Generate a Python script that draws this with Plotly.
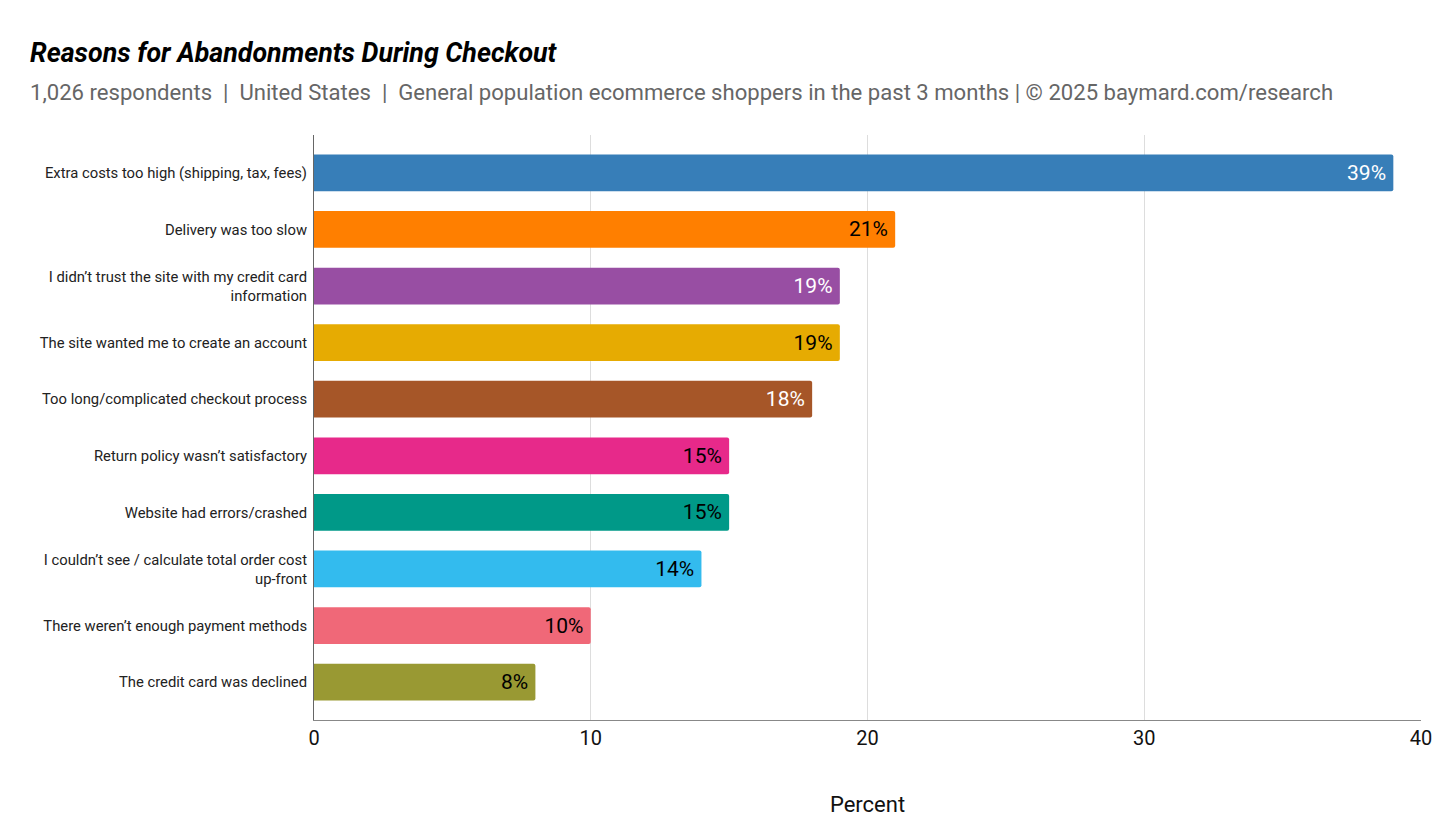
import plotly.graph_objects as go

# survey answers, top to bottom
reasons = [
    'Extra costs too high (shipping, tax, fees)',
    'Delivery was too slow',
    'I didn’t trust the site with my credit card<br>information',
    'The site wanted me to create an account',
    'Too long/complicated checkout process',
    'Return policy wasn’t satisfactory',
    'Website had errors/crashed',
    'I couldn’t see / calculate total order cost<br>up-front',
    'There weren’t enough payment methods',
    'The credit card was declined',
]
percent = [39, 21, 19, 19, 18, 15, 15, 14, 10, 8]
bar_colors = ['#377eb8', '#ff7f00', '#984ea3', '#e6ab02', '#a65628',
              '#e7298a', '#009988', '#33bbee', '#f06878', '#999933']
label_colors = ['white', 'black', 'white', 'black', 'white',
                'black', 'black', 'black', 'black', 'black']

fig = go.Figure()
fig.add_trace(go.Bar(
    x=percent,
    y=reasons,
    orientation='h',
    marker=dict(color=bar_colors, line=dict(width=0), cornerradius=2),
    text=[f'{p}%\u2009' for p in percent],
    textposition='inside',
    insidetextanchor='end',
    textfont=dict(size=21, color=label_colors, family='Roboto'),
    hovertemplate='<b>%{y}</b>: %{x}%<extra></extra>',
))

fig.update_layout(
    width=1447, height=825,
    margin=dict(l=306, r=34, t=127, b=113),
    plot_bgcolor='white', paper_bgcolor='white',
    font=dict(family='Roboto', color='#222222'),
    bargap=0.35,
    showlegend=False,
    xaxis=dict(
        range=[0, 40], dtick=10,
        showgrid=True, gridcolor='#dddddd', gridwidth=1,
        zeroline=False,
        showline=True, linecolor='#888888', linewidth=1,
        tickfont=dict(size=20, color='#111111'),
        ticks='', ticklen=0,
        title=dict(text='Percent', font=dict(size=22, color='#111111'), standoff=47),
    ),
    yaxis=dict(
        range=[len(reasons) - 1 + 0.67, -0.67],
        showline=True, linecolor='#666666', linewidth=1,
        showgrid=False,
        tickfont=dict(size=14.8, color='#222222'),
        ticks='', ticklen=0,
        ticklabelstandoff=3,
    ),
    annotations=[
        dict(text='<b><i>Reasons for Abandonments During Checkout</i></b>',
             xref='paper', yref='paper', x=-0.2585, y=1.140,
             xanchor='left', yanchor='middle', showarrow=False,
             font=dict(size=26.8, color='#000000', family='Roboto')),
        dict(text='1,026 respondents  |  United States  |  General population ecommerce shoppers in the past 3 months | © 2025 baymard.com/research',
             xref='paper', yref='paper', x=-0.2585, y=1.0735,
             xanchor='left', yanchor='middle', showarrow=False,
             font=dict(size=22.1, color='#666666', family='Roboto')),
    ],
)

fig.write_html('out.html')
